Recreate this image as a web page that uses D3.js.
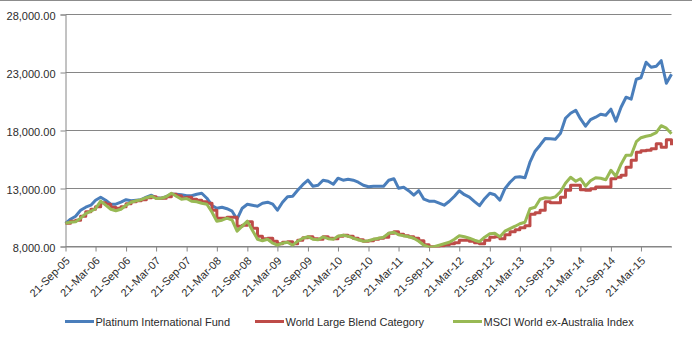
<!DOCTYPE html>
<html>
<head>
<meta charset="utf-8">
<script src="https://cdn.jsdelivr.net/npm/d3@7"></script>
<style>
  body { margin: 0; background: #fff; }
  svg { display: block; font-family: "Liberation Sans", Arial, sans-serif; }
</style>
</head>
<body>
<div id="chart"></div>
<script>
// monthly closes, Sep 2005 .. Sep 2015 (growth of 10,000)
const startDate = new Date(2005, 8, 21);
const endDate = new Date(2015, 8, 21);

const platinum = [10000,10353,10612,11129,11388,11560,11991,12250,11991,11646,
  11646,11819,12034,11948,11991,12034,12250,12422,12207,12163,
  12293,12508,12508,12465,12379,12379,12508,12594,12163,11517,
  11301,11388,11258,11043,10353,11301,11646,11560,11474,11732,
  11819,11646,11129,11819,12293,12336,12853,13327,13715,13198,
  13284,13715,13629,13370,13887,13715,13801,13715,13543,13284,
  13155,13198,13198,13198,13715,13844,13025,13112,12810,12422,
  12810,12077,11905,11905,11732,11560,11905,12336,12810,12465,
  12250,11862,11517,12120,12594,12465,11991,12982,13543,13974,
  14017,13931,15267,16215,16732,17310,17292,17249,17766,19059,
  19490,19749,19016,18370,18930,19146,19404,19318,19835,18801,
  20008,20870,20698,22422,22551,23887,23456,23543,24016,22076,
  22852];

const worldLarge = [10000,10181,10267,10612,11000,11215,11431,11776,11646,11388,
  11301,11431,11689,11862,11948,12034,12207,12293,12163,12163,
  12293,12508,12379,12207,12250,12077,11991,11862,11732,11129,
  10439,10439,10526,10526,9750,9836,10138,9577,8888,8672,
  8715,8457,8241,8371,8414,8241,8543,8759,8845,8672,
  8629,8845,8715,8672,8888,8974,8888,8715,8586,8457,
  8500,8629,8715,8802,9146,9276,9060,8931,8845,8715,
  8500,8155,7983,7983,8069,8155,8241,8328,8543,8543,
  8457,8328,8241,8543,8802,8845,8672,9017,9276,9448,
  9621,9793,10784,10914,11129,11862,11776,11776,12250,12853,
  13284,13284,12896,12853,12982,13138,13138,13138,13844,13974,
  14146,14836,15439,16129,16258,16301,16430,16861,16560,17206,
  16732];

const msci = [10000,10095,10138,10439,10827,11043,11258,11905,11560,11215,
  11086,11215,11560,11819,11948,12034,12207,12336,12138,12163,
  12293,12594,12336,12077,12138,11905,11862,11732,11646,10956,
  10181,10267,10439,10267,9319,9750,10181,9405,8629,8500,
  8629,8284,8112,8284,8371,8112,8457,8715,8845,8629,
  8586,8828,8672,8629,8888,8974,8888,8715,8586,8457,
  8500,8629,8715,8802,9146,9233,9017,8931,8845,8715,
  8457,8112,7940,7983,8112,8241,8371,8629,8931,8845,
  8715,8543,8414,8802,9103,9146,8845,9319,9534,9750,
  9965,10095,11258,11388,12077,12207,12163,12276,12724,13456,
  13974,13629,13844,13198,13672,13931,13887,13758,14577,14060,
  15094,15870,15870,17034,17379,17508,17594,17810,18413,18197,
  17723];

const seriesNames = ["Platinum International Fund", "World Large Blend Category", "MSCI World ex-Australia Index"];
const seriesColors = ["#4a7ebb", "#be4b48", "#98b954"];

const yTicks = [8000, 13000, 18000, 23000, 28000];
const xTickLabels = ["21-Sep-05","21-Mar-06","21-Sep-06","21-Mar-07","21-Sep-07","21-Mar-08",
  "21-Sep-08","21-Mar-09","21-Sep-09","21-Mar-10","21-Sep-10","21-Mar-11","21-Sep-11",
  "21-Mar-12","21-Sep-12","21-Mar-13","21-Sep-13","21-Mar-14","21-Sep-14","21-Mar-15"];

const width = 692, height = 339;
const margin = { top: 14.5, right: 20.5, bottom: 92.5, left: 65.5 };
const innerW = width - margin.left - margin.right;
const innerH = height - margin.top - margin.bottom;

const dates = d3.range(platinum.length).map(m => d3.timeMonth.offset(startDate, m));
const parseTick = d3.timeParse("%d-%b-%y");

const x = d3.scaleTime().domain([startDate, endDate]).range([0, innerW]);
const y = d3.scaleLinear().domain([8000, 28000]).range([innerH, 0]);

const svg = d3.select("#chart").append("svg")
  .attr("width", width)
  .attr("height", height);

// outer chart border (only the top edge shows)
svg.append("line")
  .attr("x1", 0).attr("x2", width)
  .attr("y1", 0.5).attr("y2", 0.5)
  .attr("stroke", "#8c8c8c");

const g = svg.append("g").attr("transform", `translate(${margin.left},${margin.top})`);

// horizontal gridlines
g.append("g")
  .selectAll("line")
  .data(yTicks)
  .enter().append("line")
  .attr("x1", 0).attr("x2", innerW)
  .attr("y1", d => y(d)).attr("y2", d => y(d))
  .attr("stroke", "#868686");

// y axis
const yAxis = g.append("g")
  .call(d3.axisLeft(y).tickValues(yTicks).tickFormat(d3.format(",.2f")).tickSize(5).tickPadding(5));
yAxis.select(".domain").attr("stroke", "#868686");
yAxis.selectAll(".tick line").attr("stroke", "#868686");
yAxis.selectAll("text")
  .attr("dy", "0.44em")
  .style("font-size", "11px")
  .attr("fill", "#2b2b2b");

// x axis
const xAxis = g.append("g")
  .attr("transform", `translate(0,${innerH})`)
  .call(d3.axisBottom(x).tickValues(xTickLabels.map(parseTick)).tickFormat(d3.timeFormat("%d-%b-%y")).tickSize(5).tickSizeOuter(0));
xAxis.select(".domain").attr("stroke", "#868686");
xAxis.selectAll(".tick line").attr("stroke", "#868686");
xAxis.selectAll("text")
  .attr("y", 0).attr("dy", 0)
  .attr("transform", "translate(4.5,15) rotate(-45)")
  .attr("text-anchor", "end")
  .style("font-size", "11px")
  .attr("fill", "#2b2b2b");

// clip lines to plot area
svg.append("defs").append("clipPath").attr("id", "plot-clip")
  .append("rect").attr("x", -2).attr("y", -2).attr("width", innerW + 4).attr("height", innerH + 3);

const allSeries = [platinum, worldLarge, msci];
const curves = [d3.curveLinear, d3.curveStepAfter, d3.curveLinear];

allSeries.forEach((values, i) => {
  const line = d3.line()
    .x((d, j) => x(dates[j]))
    .y(d => y(d))
    .curve(curves[i]);
  g.append("path")
    .datum(values)
    .attr("clip-path", "url(#plot-clip)")
    .attr("fill", "none")
    .attr("stroke", seriesColors[i])
    .attr("stroke-width", 3)
    .attr("stroke-linejoin", "round")
    .attr("d", line);
});

// legend
const legendX = [65, 255, 453];
const legend = svg.append("g");
seriesNames.forEach((name, i) => {
  legend.append("line")
    .attr("x1", legendX[i]).attr("x2", legendX[i] + 29)
    .attr("y1", 321.5).attr("y2", 321.5)
    .attr("stroke", seriesColors[i])
    .attr("stroke-width", 3);
  legend.append("text")
    .attr("x", legendX[i] + 30.5)
    .attr("y", 325.5)
    .style("font-size", "11px")
    .attr("fill", "#2b2b2b")
    .text(name);
});
</script>
</body>
</html>
